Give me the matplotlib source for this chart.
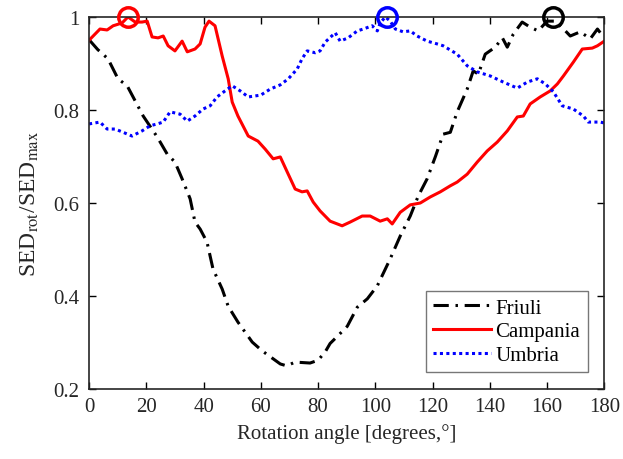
import matplotlib
matplotlib.use("Agg")
import matplotlib.pyplot as plt

# Friuli (black dash-dot)
friuli_x = [0, 3, 6.6, 10.1, 13.3, 18.9, 23.8, 27.3, 30, 32.5, 35.3, 37, 38.8, 41.2, 43.3,
            46.5, 48.6, 52, 57, 60.5, 66.8, 69, 72, 77.2, 80, 82.5, 84.2, 87, 90.2, 93.7, 97.2,
            100.7, 105.2, 108.7, 112.2, 115, 118.1, 121, 123.7, 126.2, 128.6, 132.1, 134.2, 136,
            138.4, 141.9, 144.4, 146.1, 148.2, 151.3, 154.1, 156.9, 160, 162.9, 166.4, 168.1,
            171.6, 175.1, 177.6, 180]
friuli_y = [0.951, 0.93, 0.910, 0.867, 0.852, 0.787, 0.742, 0.705, 0.688, 0.652, 0.609, 0.559,
            0.544, 0.516, 0.458, 0.415, 0.378, 0.344, 0.301, 0.282, 0.254, 0.250, 0.258, 0.256,
            0.262, 0.280, 0.298, 0.315, 0.335, 0.376, 0.394, 0.422, 0.480, 0.529, 0.572, 0.615,
            0.652, 0.700, 0.748, 0.752, 0.796, 0.845, 0.884, 0.877, 0.920, 0.935, 0.955, 0.935,
            0.963, 0.989, 0.978, 0.970, 0.991, 0.991, 0.970, 0.959, 0.968, 0.953, 0.974, 0.955]

# Campania (red solid)
campania_x = [0, 3.8, 6.3, 8.4, 11.5, 13.6, 16.1, 18.5, 20.3, 22, 24.1, 25.9, 27.6, 30, 32.5,
              34.3, 37, 38.8, 40.5, 41.9, 44, 46.5, 48.6, 50, 52, 55.6, 59, 61.5, 64.3, 66.8,
              69.2, 72, 74.4, 76.2, 78.3, 80.7, 84.2, 88.4, 91.2, 95.4, 98.2, 101.7, 104.2, 105.9,
              108.7, 112.2, 115.7, 119.2, 122.7, 126.2, 128.6, 132.1, 135.6, 139.1, 142.6, 146.1,
              149.6, 151.7, 154.1, 157.6, 161.1, 163.6, 165.7, 169.2, 172.3, 175.8, 177.6, 180]
campania_y = [0.95, 0.974, 0.972, 0.981, 0.987, 1.0, 0.989, 0.989, 0.991, 0.957, 0.955, 0.959,
              0.938, 0.927, 0.948, 0.925, 0.931, 0.942, 0.978, 0.991, 0.981, 0.916, 0.867, 0.817,
              0.787, 0.744, 0.733, 0.716, 0.695, 0.699, 0.667, 0.630, 0.624, 0.626, 0.602, 0.583,
              0.561, 0.551, 0.559, 0.572, 0.572, 0.561, 0.566, 0.555, 0.580, 0.596, 0.600, 0.613,
              0.624, 0.637, 0.645, 0.662, 0.688, 0.712, 0.731, 0.755, 0.785, 0.787, 0.813, 0.828,
              0.841, 0.856, 0.873, 0.903, 0.931, 0.933, 0.938, 0.948]

# Umbria (blue dotted)
umbria_x = [0, 3.8, 6.3, 9.1, 11.5, 15, 18.5, 21.3, 23.8, 25.9, 28.3, 31.8, 34.3, 37, 39.8,
            42.3, 44.7, 47.5, 50, 52.8, 55.6, 60, 63.3, 66.8, 69.6, 72.7, 74.4, 76.2, 79, 80.7,
            82.5, 86, 87.7, 90.5, 93.7, 95.8, 98.9, 100.7, 101.7, 103.5, 105.2, 107, 109.7,
            112.2, 114.6, 118.1, 121.6, 123.7, 128.6, 132.1, 135.6, 140.2, 144.7, 149.6, 153.1,
            156.6, 159.4, 162.2, 165.3, 169.2, 172.7, 174.4, 178.6, 180]
umbria_y = [0.770, 0.774, 0.759, 0.759, 0.753, 0.744, 0.755, 0.766, 0.770, 0.774, 0.796, 0.791,
            0.776, 0.787, 0.802, 0.809, 0.828, 0.841, 0.852, 0.841, 0.828, 0.832, 0.845, 0.854,
            0.867, 0.888, 0.910, 0.927, 0.923, 0.927, 0.946, 0.966, 0.948, 0.955, 0.970, 0.974,
            0.981, 0.970, 0.987, 1.0, 0.991, 0.974, 0.968, 0.970, 0.959, 0.948, 0.942, 0.938,
            0.920, 0.895, 0.882, 0.873, 0.860, 0.847, 0.860, 0.867, 0.856, 0.839, 0.809, 0.802,
            0.787, 0.774, 0.774, 0.772]

# maxima markers
max_x = [13.6, 104.2, 162.2]
max_y = [1.0, 1.0, 1.0]
max_colors = ["red", "blue", "black"]

plt.rcParams["font.family"] = ["Liberation Serif", "DejaVu Serif"]
plt.rcParams["mathtext.fontset"] = "stix"

fig = plt.figure(figsize=(6.23, 4.6), dpi=100)
ax = fig.add_axes([0.143, 0.152, 0.827, 0.809])

ax.plot(friuli_x, friuli_y, color="black", lw=2.2, dashes=(5, 2.2, 0.8, 2.2), label="Friuli")
ax.plot(campania_x, campania_y, color="red", lw=2.2, label="Campania")
ax.plot(umbria_x, umbria_y, color="blue", lw=2.2, linestyle=(0, (1, 1.1)), label="Umbria")
for x, y, c in zip(max_x, max_y, max_colors):
    ax.plot(x, y, "o", ms=14, mfc="none", mec=c, mew=2.5, clip_on=False, zorder=5)

ax.set_xlim(0, 180)
ax.set_ylim(0.2, 1.0)
ax.set_xticks(range(0, 181, 20))
ax.set_yticks([0.2, 0.4, 0.6, 0.8, 1.0])
ax.set_yticklabels(["0.2", "0.4", "0.6", "0.8", "1"])
ax.tick_params(direction="in", top=True, right=True, labelsize=15, length=5, width=1,
               labelcolor="#262626")
ax.tick_params(axis="y", pad=7)
ax.tick_params(axis="x", pad=6)
for s in ax.spines.values():
    s.set_linewidth(1.2)
    s.set_color("#262626")

ax.set_xlabel("Rotation angle [degrees,°]", fontsize=15, color="#262626", labelpad=5)
ax.set_ylabel(r"SED$_{\mathrm{rot}}$/SED$_{\mathrm{max}}$", fontsize=17, color="#262626",
              labelpad=9)

leg = ax.legend(loc="lower right", fontsize=15, fancybox=False, edgecolor="#777777",
                framealpha=1, handlelength=2.8, handletextpad=0.2, borderaxespad=0.8,
                labelspacing=0.2, borderpad=0.35)
leg.get_frame().set_linewidth(1)

fig.savefig("out.png", dpi=100)
